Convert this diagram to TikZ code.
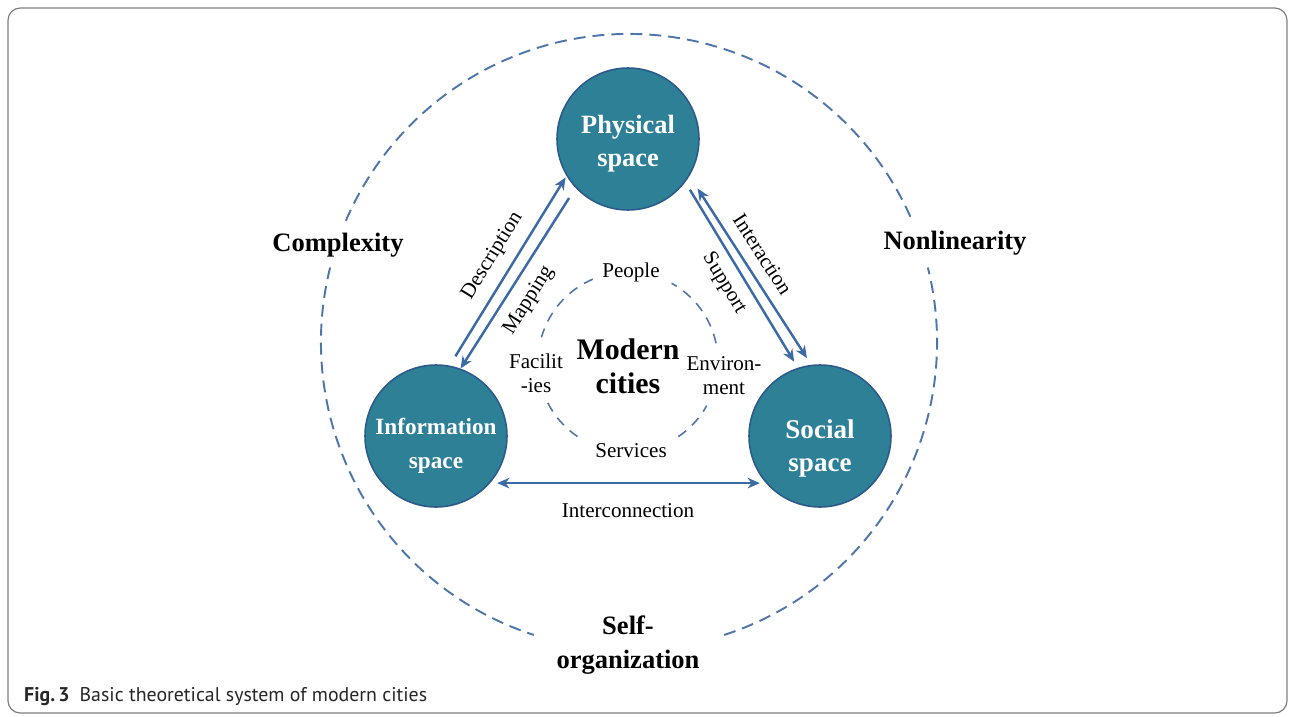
\documentclass[tikz,border=0pt]{standalone}
\usepackage{fontspec}
\setmainfont{Liberation Serif}
\newfontfamily\capfont{PT Sans}
\usetikzlibrary{arrows.meta}

\definecolor{spacefill}{RGB}{46,128,150}
\definecolor{spaceedge}{RGB}{44,90,140}
\definecolor{linkblue}{RGB}{60,106,164}
\definecolor{dashblue}{RGB}{78,118,170}

\begin{document}
\begin{tikzpicture}[x=0.02cm,y=-0.02cm,
  >={Stealth[length=7pt,width=6pt]},
  space/.style={circle,minimum size=2.84cm,inner sep=0pt,fill=spacefill,draw=spaceedge,line width=0.9pt},
  spacetext/.style={text=white,align=center,inner sep=0pt,font=\bfseries\fontsize{15}{18.7}\selectfont},
  link/.style={linkblue,line width=1.4pt},
  lab/.style={text=black,font=\fontsize{12}{13.6}\selectfont,inner sep=4pt},
  prop/.style={font=\bfseries\fontsize{15.1}{19.3}\selectfont,align=center},
  bigdash/.style={dashblue,line width=1.1pt,dash pattern=on 6.8pt off 4pt},
  smalldash/.style={dashblue,line width=0.9pt,dash pattern=on 5.6pt off 4.5pt}]
\useasboundingbox (0,0) rectangle (1292,717);
\draw[black!50,line width=0.7pt,rounded corners=7pt] (8,8) rectangle (1287,713);

\draw[bigdash] (629,342) ++(-24:308) arc[start angle=-24,end angle=-157,radius=308];
\draw[bigdash] (629,342) ++(-166:308) arc[start angle=-166,end angle=-252,radius=308];
\draw[bigdash] (629,342) ++(-288:308) arc[start angle=-288,end angle=-374,radius=308];

\draw[smalldash] (628,362) ++(-12:90) arc[start angle=-12,end angle=-61,radius=90];
\draw[smalldash] (628,362) ++(-113:90) arc[start angle=-113,end angle=-164,radius=90];
\draw[smalldash] (628,362) ++(-207:90) arc[start angle=-207,end angle=-240,radius=90];
\draw[smalldash] (628,362) ++(-304:90) arc[start angle=-304,end angle=-331,radius=90];

\node[space] (phys) at (628,139) {};
\node[space] (info) at (436,436) {};
\node[space] (soc) at (820,436) {};
\node[spacetext] (physt) at ([yshift=-2.5pt]phys) {Physical\\space};
\node[spacetext,font=\bfseries\fontsize{13.2}{19.3}\selectfont] (infot) at ([yshift=-5.5pt]info) {Information\\space};
\node[spacetext,font=\bfseries\fontsize{15.4}{18.7}\selectfont] (soct) at ([yshift=-7pt]soc) {Social\\space};

\draw[link,->,shorten <=6.2pt,shorten >=1pt] (info.79) -- (phys.211)
  node[lab,pos=0.52,above=2pt,sloped] (desc) {Description};
\draw[link,<-,shorten >=6.8pt] (info.70) -- (phys.223)
  node[lab,pos=0.44,below=2pt,sloped] (mapp) {Mapping};
\draw[link,<->,shorten <=8.5pt,shorten >=4.5pt] (phys.-31) -- (soc.97)
  node[lab,pos=0.47,above=2pt,sloped] (inter) {Interaction};
\draw[link,->,shorten <=5pt,shorten >=4pt] (phys.-37) -- (soc.108)
  node[lab,pos=0.49,below=1pt,sloped] (supp) {Support};
\draw[link,<->,shorten <=4pt,shorten >=3.4pt] (info.-41) -- (soc.221)
  node[lab,midway,below=7pt] (icon) {Interconnection};

\node[font=\bfseries\fontsize{17}{19.3}\selectfont,align=center] (city) at (628,366) {Modern\\cities};
\node[lab] (peop) at (631,272) {People};
\node[lab,align=center] (faci) at (536,373) {Facilit\\-ies};
\node[lab,align=center] (envi) at (724,376) {Environ-\\ment};
\node[lab] (serv) at (631,451) {Services};

\node[prop] (cplx) at (338,245) {Complexity};
\node[prop] (nonl) at (955,243) {Nonlinearity};
\node[prop] (self) at (628,645) {Self-\\organization};

\node[anchor=west,font=\capfont\fontsize{11.3}{14}\selectfont,text=black!85] (capt) at (18,697)
  {\textbf{Fig.\,3}\hspace{0.5em}Basic theoretical system of modern cities};
\end{tikzpicture}
\end{document}
